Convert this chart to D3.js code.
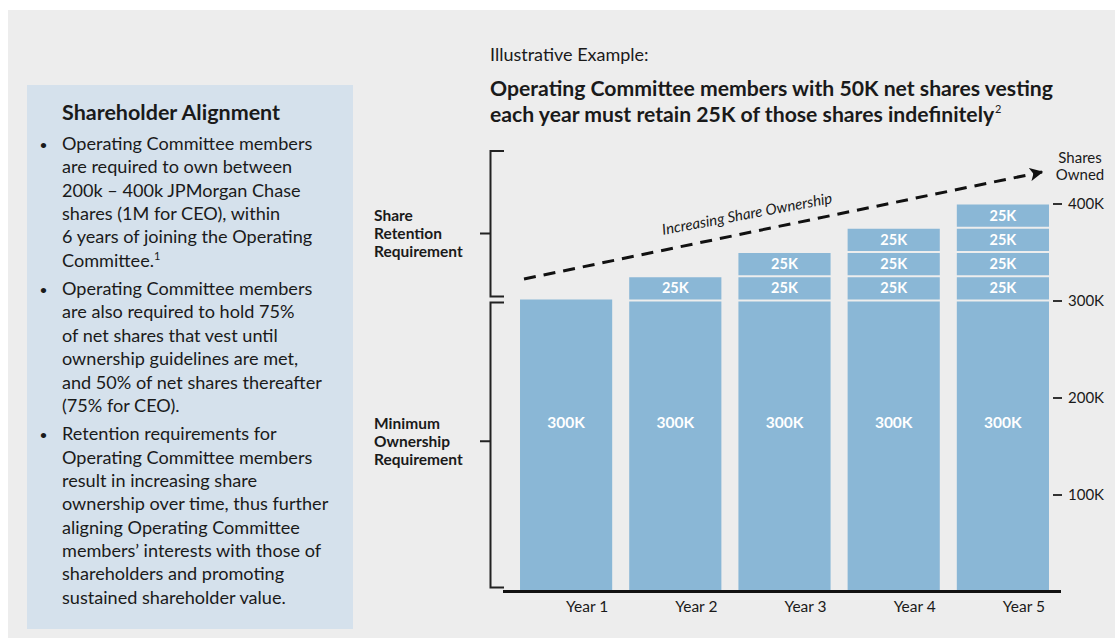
<!DOCTYPE html>
<html>
<head>
<meta charset="utf-8">
<script src="https://cdn.jsdelivr.net/npm/d3@7"></script>
<style>
  body { margin: 0; background: #ffffff; }
  svg { display: block; }
  text { font-family: Lato, "Noto Sans", sans-serif; fill: #1a1a1a; }
</style>
</head>
<body>
<svg id="chart" width="1115" height="638"></svg>
<script>
// ---- data ----
const years = ["Year 1", "Year 2", "Year 3", "Year 4", "Year 5"];
const minimumShares = [300, 300, 300, 300, 300];          // thousands
const retainedBlocks = [[], [25], [25, 25], [25, 25, 25], [25, 25, 25, 25]]; // thousands
const yTicks = [100, 200, 300, 400];
const tickLabels = ["100K", "200K", "300K", "400K"];
const sideTitle = "Shareholder Alignment";
const bullets = [
  ["Operating Committee members", "are required to own between", "200k – 400k JPMorgan Chase", "shares (1M for CEO), within", "6 years of joining the Operating", "Committee.\u00B9"],
  ["Operating Committee members", "are also required to hold 75%", "of net shares that vest until", "ownership guidelines are met,", "and 50% of net shares thereafter", "(75% for CEO)."],
  ["Retention requirements for", "Operating Committee members", "result in increasing share", "ownership over time, thus further", "aligning Operating Committee", "members\u2019 interests with those of", "shareholders and promoting", "sustained shareholder value."]
];
const subtitle = "Illustrative Example:";
const titleLines = ["Operating Committee members with 50K net shares vesting", "each year must retain 25K of those shares indefinitely"];
const retentionLabel = ["Share", "Retention", "Requirement"];
const minimumLabel = ["Minimum", "Ownership", "Requirement"];
const trendLabel = "Increasing Share Ownership";
const axisTitle = ["Shares", "Owned"];

// ---- setup ----
const svg = d3.select("#chart");
const barColor = "#8ab7d6";

svg.append("rect").attr("x", 8).attr("y", 10).attr("width", 1107).attr("height", 628).attr("fill", "#ededed");

// ---- left panel ----
svg.append("rect").attr("x", 27).attr("y", 85).attr("width", 326).attr("height", 544).attr("fill", "#d5e1ec");
svg.append("text").attr("x", 62).attr("y", 120).attr("font-size", 21.5).attr("font-weight", 700).text(sideTitle);

let yy = 150;
const lh = 23.35;
bullets.forEach((lines, bi) => {
  svg.append("text").attr("x", 40).attr("y", yy - 1).attr("font-size", 12).attr("font-weight", 700).text("•");
  lines.forEach((ln, li) => {
    const t = svg.append("text").attr("x", 62).attr("y", yy + li * lh).attr("font-size", 18.1);
    if (ln.endsWith("\u00B9")) {
      t.text(ln.slice(0, -1));
      t.append("tspan").attr("font-size", 11).attr("dy", -7).text("1");
    } else t.text(ln);
  });
  yy += lines.length * lh + 5;
});

// ---- titles ----
svg.append("text").attr("x", 490).attr("y", 61).attr("font-size", 18).text(subtitle);
titleLines.forEach((ln, i) => {
  const t = svg.append("text").attr("x", 490).attr("y", 96 + i * 26).attr("font-size", 21.2).attr("font-weight", 700).text(ln);
  if (i === 1) t.append("tspan").attr("font-size", 11).attr("dy", -9).attr("dx", 1).attr("font-weight", 400).text("2");
});

// ---- scales ----
const x = d3.scaleBand().domain(years).range([511.5, 1057.5]).paddingInner(0.156).paddingOuter(0.078);
const y = d3.scaleLinear().domain([0, 400]).range([591.5, 203.5]);

// ---- bars ----
const g = svg.append("g");
years.forEach((yr, i) => {
  const bx = x(yr), bw = x.bandwidth();
  const base = minimumShares[i];
  const hasTop = retainedBlocks[i].length > 0;
  g.append("rect").attr("x", bx).attr("y", y(base) + (hasTop ? 1 : -1)).attr("width", bw)
    .attr("height", y(0) - y(base) - (hasTop ? 1 : -1)).attr("fill", barColor);
  g.append("text").attr("x", bx + bw / 2).attr("y", y(base) + 0.42 * (y(0) - y(base)) + 5)
    .attr("text-anchor", "middle").attr("font-size", 15.5).attr("font-weight", 700).style("fill", "#ffffff").text(base + "K");
  let cum = base;
  retainedBlocks[i].forEach((v) => {
    const top = cum + v;
    g.append("rect").attr("x", bx).attr("y", y(top) + 1).attr("width", bw).attr("height", y(cum) - y(top) - 2).attr("fill", barColor);
    g.append("text").attr("x", bx + bw / 2).attr("y", (y(top) + y(cum)) / 2 + 5)
      .attr("text-anchor", "middle").attr("font-size", 14.5).attr("font-weight", 700).style("fill", "#ffffff").text(v + "K");
    cum = top;
  });
});

// ---- baseline ----
svg.append("line").attr("x1", 503).attr("x2", 1061).attr("y1", y(0)).attr("y2", y(0)).attr("stroke", "#111").attr("stroke-width", 3);

// ---- x axis labels ----
const xa = svg.append("g").attr("transform", `translate(21,${y(0)})`)
  .call(d3.axisBottom(x).tickSize(0).tickPadding(9));
xa.select(".domain").remove();
xa.selectAll("text").attr("font-size", 15.5).style("font-family", "Lato, 'Noto Sans', sans-serif").style("fill", "#1a1a1a");

// ---- right axis ----
const ya = svg.append("g").attr("transform", "translate(1053,0)")
  .call(d3.axisRight(y).tickValues(yTicks).tickSize(9).tickPadding(6).tickFormat((d, i) => tickLabels[i]));
ya.select(".domain").remove();
ya.selectAll("line").attr("stroke", "#333").attr("stroke-width", 2);
ya.selectAll("text").attr("font-size", 15).style("font-family", "Lato, 'Noto Sans', sans-serif").style("fill", "#1a1a1a");

axisTitle.forEach((t, i) => {
  svg.append("text").attr("x", 1080).attr("y", 163 + i * 17).attr("text-anchor", "middle").attr("font-size", 15).text(t);
});

// ---- brackets ----
function bracket(top, bottom, tickAt) {
  const ty = y(tickAt);
  const p = d3.path();
  p.moveTo(504, y(top)); p.lineTo(490.5, y(top)); p.lineTo(490.5, y(bottom)); p.lineTo(504, y(bottom));
  p.moveTo(480, ty); p.lineTo(490.5, ty);
  svg.append("path").attr("d", p.toString()).attr("fill", "none").attr("stroke", "#222").attr("stroke-width", 2);
  return ty;
}
const midRet = bracket(454, 304, 369);
const midMin = bracket(298, 4, 155);
retentionLabel.forEach((t, i) => svg.append("text").attr("x", 374).attr("y", midRet - 12.5 + i * 18).attr("font-size", 15.5).attr("font-weight", 700).text(t));
minimumLabel.forEach((t, i) => svg.append("text").attr("x", 374).attr("y", midMin - 12.5 + i * 18).attr("font-size", 15.5).attr("font-weight", 700).text(t));

// ---- trend arrow ----
svg.append("defs").append("marker").attr("id", "arr").attr("viewBox", "0 0 10 10").attr("refX", 9).attr("refY", 5)
  .attr("markerWidth", 4.5).attr("markerHeight", 4.5).attr("markerUnits", "strokeWidth").attr("orient", "auto")
  .append("path").attr("d", "M0,0 L10,5 L0,10 L2.5,5 Z").attr("fill", "#111");
const ax1 = 524, ay1 = 279, ax2 = 1042, ay2 = 172;
svg.append("line").attr("x1", ax1).attr("y1", ay1).attr("x2", ax2).attr("y2", ay2)
  .attr("stroke", "#111").attr("stroke-width", 3).attr("stroke-dasharray", "12,8").attr("marker-end", "url(#arr)");
const ang = Math.atan2(ay2 - ay1, ax2 - ax1) * 180 / Math.PI;
svg.append("text").attr("transform", `translate(748,219) rotate(${ang + 1})`).attr("text-anchor", "middle")
  .attr("font-size", 15).attr("font-style", "italic").text(trendLabel);
</script>
</body>
</html>
